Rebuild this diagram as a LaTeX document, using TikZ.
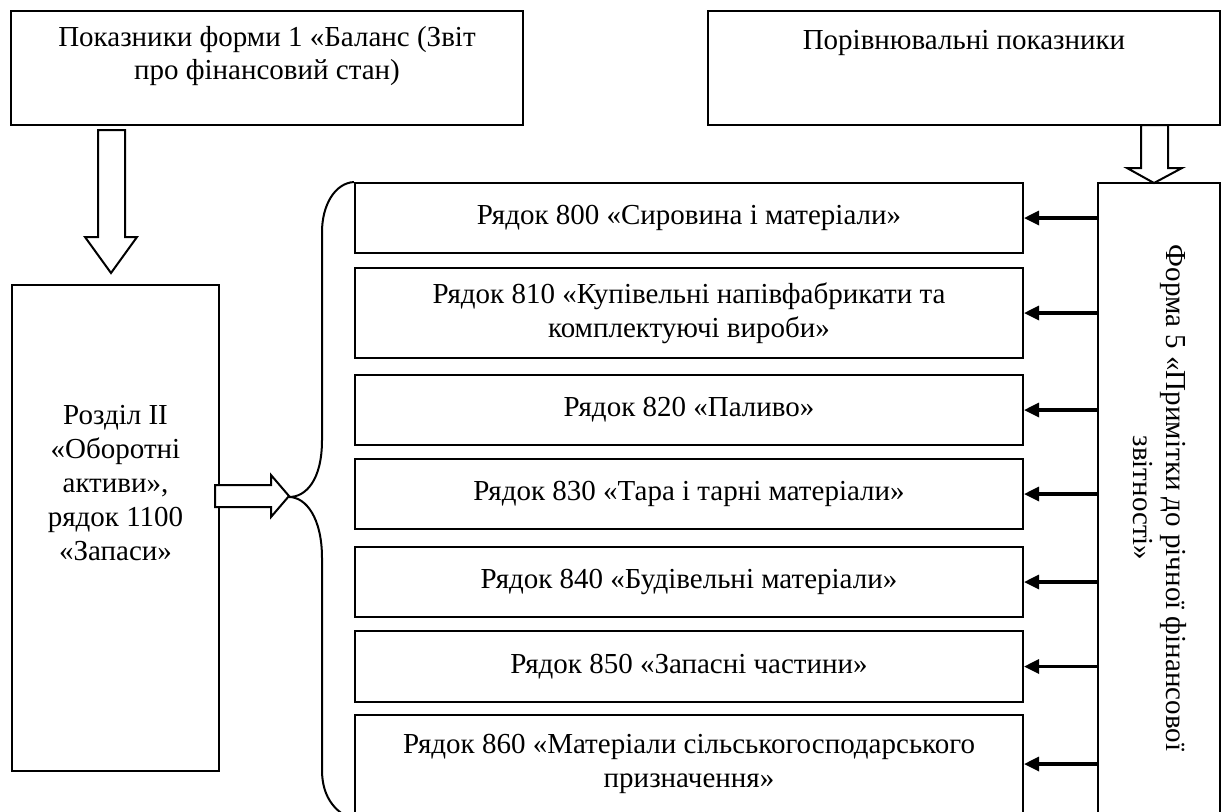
\documentclass[tikz,border=0pt]{standalone}
\usepackage{fontspec}
\setmainfont{Liberation Serif}
\usetikzlibrary{arrows.meta}
\tikzset{
  box/.style={draw, line width=1pt, inner sep=0pt},
  txt/.style={font=\fontsize{14.5}{16.8}\selectfont, align=center, inner sep=0pt},
  link/.style={line width=1.6pt, -{Triangle[length=7.5pt,width=7pt]}},
  hollow/.style={draw, line width=1pt, fill=white, line join=miter},
  brace/.style={line width=1pt}
}
\begin{document}
\begin{tikzpicture}[x=0.5pt,y=-0.5pt]
\useasboundingbox (0,0) rectangle (1224,811);
\clip (0,0) rectangle (1224,811);
\fill[white] (0,0) rectangle (1224,811);

% top boxes
\node[box, minimum width=256pt, minimum height=57pt] (tl) at (267,68) {};
\node[txt] (tltext) at (267,56) {Показники форми 1 «Баланс (Звіт\\про фінансовий стан)};
\node[box, minimum width=256pt, minimum height=57pt] (tr) at (964,68) {};
\node[txt] (trtext) at (964,43) {Порівнювальні показники};

% left box
\node[box, minimum width=103.5pt, minimum height=243pt] (lb) at (115.5,528) {};
\node[txt, font=\fontsize{14.5}{17}\selectfont] (lbtext) at (115.5,483) {Розділ II\\«Оборотні\\активи»,\\рядок 1100\\«Запаси»};

% rows
\node[box, txt, minimum width=334pt, minimum height=35pt] (r1) at (689,218) {Рядок 800 «Сировина і матеріали»};
\node[box, txt, minimum width=334pt, minimum height=45pt] (r2) at (689,313) {Рядок 810 «Купівельні напівфабрикати та\\комплектуючі вироби»};
\node[box, txt, minimum width=334pt, minimum height=35pt] (r3) at (689,410) {Рядок 820 «Паливо»};
\node[box, txt, minimum width=334pt, minimum height=35pt] (r4) at (689,494) {Рядок 830 «Тара і тарні матеріали»};
\node[box, txt, minimum width=334pt, minimum height=35pt] (r5) at (689,582) {Рядок 840 «Будівельні матеріали»};
\node[box, txt, minimum width=334pt, minimum height=35.5pt] (r6) at (689,666.5) {Рядок 850 «Запасні частини»};
\node[box, txt, minimum width=334pt, minimum height=49pt] (r7) at (689,764) {Рядок 860 «Матеріали сільськогосподарського\\призначення»};

% right box
\node[box, minimum width=61pt, minimum height=315pt] (rb) at (1159,498) {};
\node[txt, rotate=-90] (rbtext) at (1160,498) {Форма 5 «Примітки до річної фінансової\\звітності»};

% arrows from right box
\foreach \r in {r1,r2,r3,r4,r5,r6,r7}
  \draw[link] (rb.west |- \r.east) -- (\r.east);

% hollow block arrows
\draw[hollow] (98,130) -- (125,130) -- (125,237) -- (137,237) -- (111,273) -- (85,237) -- (98,237) -- cycle;
\draw[hollow] (215,485) -- (271,485) -- (271,475) -- (289,496) -- (271,517) -- (271,507) -- (215,507) -- cycle;
\draw[hollow] (1141,125) -- (1168,125) -- (1168,168) -- (1182,168) -- (1154,183) -- (1127,168) -- (1141,168) -- cycle;

% brace
\draw[brace] (r1.north west) .. controls (335,183) and (322,205) .. (322,232)
  -- (322,440) .. controls (322,480) and (306,497) .. (289,497)
  .. controls (306,497) and (322,518) .. (322,558)
  -- (322,770) .. controls (322,798) and (336,815) .. (360,822);
\end{tikzpicture}
\end{document}
